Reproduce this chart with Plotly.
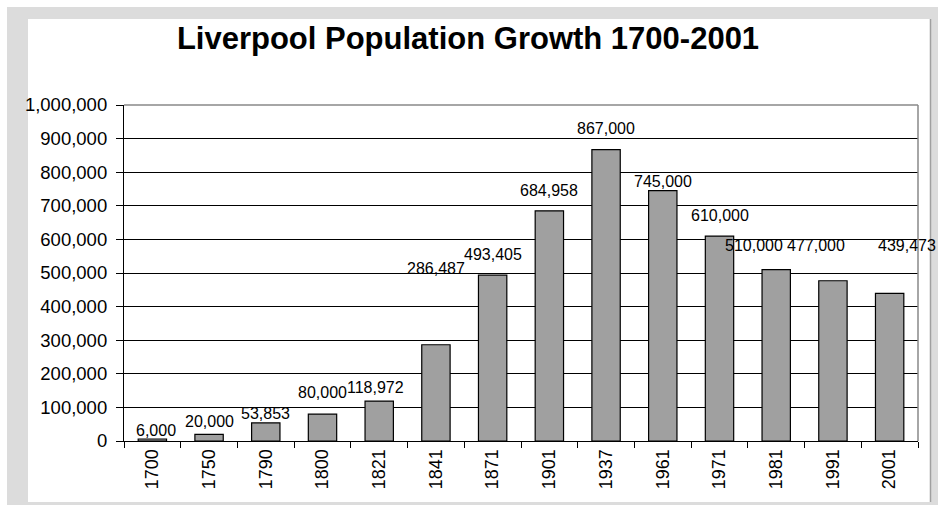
import plotly.graph_objects as go

years = ["1700", "1750", "1790", "1800", "1821", "1841", "1871", "1901",
         "1937", "1961", "1971", "1981", "1991", "2001"]
population = [6000, 20000, 53853, 80000, 118972, 286487, 493405, 684958,
              867000, 745000, 610000, 510000, 477000, 439473]
label_text = ["6,000", "20,000", "53,853", "80,000", "118,972", "286,487", "493,405",
              "684,958", "867,000", "745,000", "610,000", "510,000", "477,000", "439,473"]
# label placement as in the original (px): gap bar-top -> baseline, horizontal nudge
label_gap = [3, 7, 4, 16, 8, 71, 15, 15, 16, 4, 15, 19, 30, 42]
label_dx = [4, 0, 0, 0, -4, 0, 0, 0, 0, 0, 0, -22, -17, 17]

W, H = 938, 505
# plot area in page pixels
L, R, T, B = 124, 918, 105, 441
FONT = "Arial, Liberation Sans, sans-serif"


def px(x):
    return (x - L) / (R - L)


def py(y):
    return (B - y) / (B - T)


fig = go.Figure()
fig.add_trace(go.Bar(
    x=years, y=population,
    marker=dict(color="#a0a0a0", line=dict(color="#000000", width=1.2)),
    width=0.5,
    hoverinfo="x+y",
))

annotations = []
for i, (v, t, g, dx) in enumerate(zip(population, label_text, label_gap, label_dx)):
    annotations.append(dict(
        x=i, y=v, xref="x", yref="y", text=t, showarrow=False,
        yanchor="bottom", xanchor="center", yshift=g - 5, xshift=dx,
        font=dict(family=FONT, size=16, color="#000000"),
    ))

shapes = [
    # grey page background
    dict(type="rect", xref="paper", yref="paper", layer="below",
         x0=px(7), x1=px(950), y0=py(520), y1=py(7),
         fillcolor="#dcdcdc", line=dict(width=0)),
    # white chart panel
    dict(type="rect", xref="paper", yref="paper", layer="below",
         x0=px(28), x1=px(930), y0=py(502), y1=py(19),
         fillcolor="#ffffff", line=dict(width=0)),
    dict(type="line", xref="paper", yref="paper", layer="below",
         x0=px(930.5), x1=px(930.5), y0=py(502), y1=py(19),
         line=dict(color="#a0a0a0", width=1.5)),
    # plot-area border top and right
    dict(type="line", xref="paper", yref="paper", layer="above",
         x0=0, x1=1, y0=1, y1=1, line=dict(color="#888888", width=1.5)),
    dict(type="line", xref="paper", yref="paper", layer="above",
         x0=1, x1=1, y0=0, y1=1, line=dict(color="#888888", width=1.5)),
]

fig.update_layout(
    width=W, height=H,
    margin=dict(l=L, r=W - R, t=T, b=H - B, pad=0),
    paper_bgcolor="#ffffff",
    plot_bgcolor="rgba(0,0,0,0)",
    showlegend=False,
    title=dict(text="<b>Liverpool Population Growth 1700-2001</b>",
               x=468 / W, xanchor="center", xref="container",
               y=1 - 38 / H, yanchor="middle", yref="container",
               font=dict(family=FONT, size=31, color="#000000")),
    font=dict(family=FONT, color="#000000"),
    annotations=annotations,
    shapes=shapes,
    xaxis=dict(
        type="category", range=[-0.5, len(years) - 0.5],
        tickangle=-90, tickson="boundaries",
        ticks="outside", ticklen=6, tickcolor="#000000", tickwidth=1,
        showline=True, linecolor="#000000", linewidth=1.2,
        showgrid=False, tickfont=dict(family=FONT, size=18, color="#000000"),
        fixedrange=True,
    ),
    yaxis=dict(
        range=[0, 1000000], dtick=100000, tickformat=",",
        ticks="outside", ticklen=7, tickcolor="#000000", tickwidth=1,
        ticklabelstandoff=5,
        showline=True, linecolor="#000000", linewidth=1.2,
        showgrid=True, gridcolor="#000000", gridwidth=1,
        zeroline=False,
        tickfont=dict(family=FONT, size=18.5, color="#000000"),
        fixedrange=True,
    ),
    bargap=0.5,
)

fig.write_html(
    "out.html",
    config={"displayModeBar": False},
    post_script="document.body.style.margin='0px';document.body.style.overflow='hidden';",
)
